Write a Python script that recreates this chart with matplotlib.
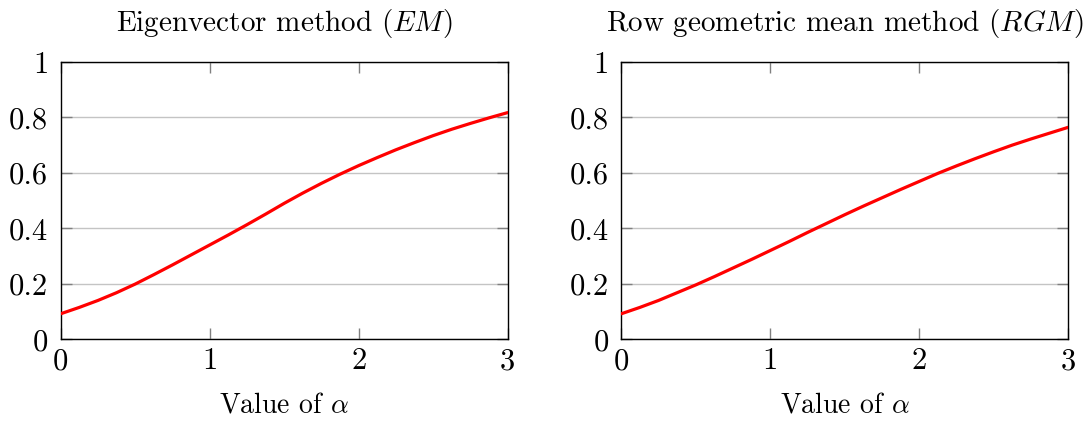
import matplotlib
matplotlib.use("Agg")
import matplotlib.pyplot as plt

alpha = [0, 0.125, 0.25, 0.375, 0.5, 0.625, 0.75, 0.875, 1.0, 1.125, 1.25, 1.375,
         1.5, 1.625, 1.75, 1.875, 2.0, 2.125, 2.25, 2.375, 2.5, 2.625, 2.75, 2.875, 3.0]
em_values = [0.092, 0.115, 0.140, 0.168, 0.199, 0.233, 0.268, 0.304, 0.34, 0.376, 0.413, 0.451,
             0.49, 0.527, 0.562, 0.595, 0.626, 0.655, 0.683, 0.709, 0.734, 0.757, 0.778, 0.798, 0.817]
rgm_values = [0.092, 0.115, 0.14, 0.168, 0.196, 0.226, 0.257, 0.288, 0.32, 0.352, 0.385, 0.417,
              0.449, 0.48, 0.51, 0.54, 0.569, 0.598, 0.625, 0.651, 0.676, 0.70, 0.722, 0.743, 0.764]
titles = [r"Eigenvector method ($EM$)", r"Row geometric mean method ($RGM$)"]
x_label = r"Value of $\alpha$"
x_ticks = [0, 1, 2, 3]
x_ticklabels = ["0", "1", "2", "3"]
y_ticks = [0, 0.2, 0.4, 0.6, 0.8, 1.0]
y_ticklabels = ["0", "0.2", "0.4", "0.6", "0.8", "1"]

plt.rcParams["font.family"] = ["cmr10", "DejaVu Serif"]
plt.rcParams["mathtext.fontset"] = "cm"
plt.rcParams["axes.formatter.use_mathtext"] = True

fig = plt.figure(figsize=(10.85, 4.23), dpi=100)
lefts = [60.7 / 1085, 621.3 / 1085]
bottom = (423 - 339.3) / 423
width = 447 / 1085
height = 277.5 / 423

for left, title, vals in zip(lefts, titles, [em_values, rgm_values]):
    ax = fig.add_axes([left, bottom, width, height])
    ax.plot(alpha, vals, color="red", lw=2.3, solid_capstyle="round",
            solid_joinstyle="round", zorder=3)
    ax.set_xlim(0, 3)
    ax.set_ylim(0, 1)
    ax.set_xticks(x_ticks)
    ax.set_xticklabels(x_ticklabels, fontsize=22)
    ax.set_yticks(y_ticks)
    ax.set_yticklabels(y_ticklabels, fontsize=22)
    ax.yaxis.grid(True, color="#c4c4c4", lw=1.0)
    ax.set_axisbelow(True)
    ax.tick_params(direction="in", length=8, width=1.0, color="#808080",
                   top=True, right=True)
    ax.tick_params(axis="x", pad=6)
    ax.tick_params(axis="y", pad=9)
    for sp in ax.spines.values():
        sp.set_linewidth(1.0)
        sp.set_color("black")
    ax.set_title(title, fontsize=21, pad=22)
    ax.set_xlabel(x_label, fontsize=20, labelpad=12)

fig.savefig("out.png", dpi=100)
